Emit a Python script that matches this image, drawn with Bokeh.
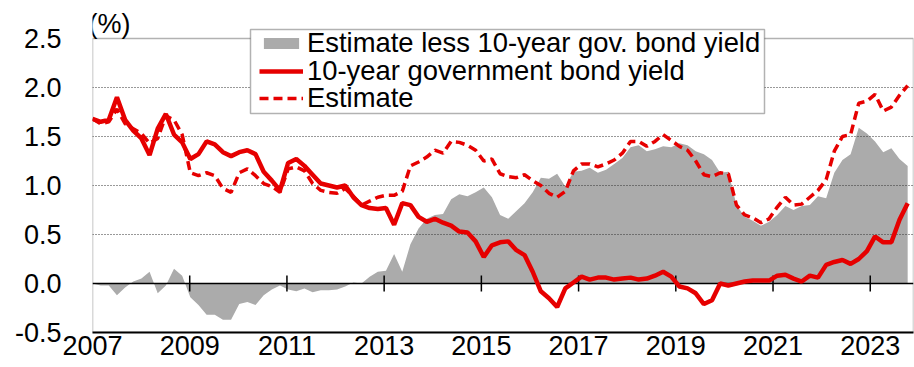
import numpy as np
from bokeh.plotting import figure
from bokeh.models import (Range1d, FixedTicker, PrintfTickFormatter, Span,
                          Legend, LegendItem, Label, ColumnDataSource,
                          BoxAnnotation)
from bokeh.embed import file_html
from bokeh.resources import INLINE

# ---------------- data (roughly bimonthly) ----------------
start_year = 2007.0
end_year = 2023.77

yield_10y = [
    1.68, 1.65, 1.67, 1.90, 1.67, 1.56, 1.48, 1.31, 1.58, 1.73,
    1.52, 1.44, 1.27, 1.32, 1.45, 1.42, 1.34, 1.30, 1.34, 1.36,
    1.32, 1.14, 1.05, 0.95, 1.23, 1.27, 1.20, 1.11, 1.02, 1.00,
    0.98, 1.00, 0.88, 0.80, 0.77, 0.76, 0.77, 0.60, 0.82, 0.80,
    0.68, 0.63, 0.66, 0.62, 0.59, 0.53, 0.52, 0.43, 0.27, 0.39,
    0.42, 0.43, 0.34, 0.29, 0.12, -0.08, -0.15, -0.24, -0.05, 0.01,
    0.07, 0.04, 0.06, 0.06, 0.04, 0.05, 0.06, 0.04, 0.05, 0.08,
    0.12, 0.07, -0.03, -0.05, -0.10, -0.21, -0.17, 0.00, -0.02, 0.00,
    0.02, 0.03, 0.03, 0.03, 0.08, 0.09, 0.05, 0.02, 0.08, 0.06,
    0.19, 0.22, 0.24, 0.20, 0.25, 0.33, 0.48, 0.42, 0.42, 0.65,
    0.82,
]

estimate = [
    1.68, 1.63, 1.65, 1.78, 1.63, 1.58, 1.53, 1.43, 1.48, 1.71,
    1.67, 1.52, 1.13, 1.10, 1.13, 1.10, 0.97, 0.93, 1.13, 1.17,
    1.10, 1.02, 0.99, 0.93, 1.17, 1.19, 1.15, 1.02, 0.95, 0.93,
    0.92, 0.97, 0.89, 0.80, 0.84, 0.88, 0.90, 0.90, 0.94, 1.20,
    1.24, 1.29, 1.36, 1.33, 1.45, 1.44, 1.41, 1.36, 1.25, 1.27,
    1.12, 1.09, 1.08, 1.11, 1.05, 1.00, 0.92, 0.88, 0.94, 1.15,
    1.22, 1.22, 1.19, 1.22, 1.26, 1.33, 1.45, 1.45, 1.40, 1.45,
    1.52, 1.46, 1.40, 1.36, 1.25, 1.11, 1.09, 1.13, 1.12, 0.80,
    0.70, 0.67, 0.62, 0.66, 0.78, 0.88, 0.80, 0.81, 0.88, 0.95,
    1.06, 1.35, 1.50, 1.52, 1.84, 1.86, 1.93, 1.76, 1.80, 1.92,
    2.02,
]

x_ticks = [2007, 2009, 2011, 2013, 2015, 2017, 2019, 2021, 2023]
y_ticks = [-0.5, 0.0, 0.5, 1.0, 1.5, 2.0, 2.5]
grid_ticks = [0.5, 1.0, 1.5, 2.0]

label_area = "Estimate less 10-year gov. bond yield"
label_yield = "10-year government bond yield"
label_est = "Estimate"
unit_label = "(%)"

# ---------------- build ----------------
x = np.linspace(start_year, end_year, len(yield_10y))
diff = np.array(estimate) - np.array(yield_10y)
src = ColumnDataSource(dict(x=x, y=yield_10y, e=estimate, d=diff))

FONT = "Liberation Sans"
FS = "27px"
RED = "#E60000"
GREY = "#ABABAB"

W, H = 914, 367
LEFT, RIGHT_B, BOTTOM_B = 92, 1, 35
frame_h = H - BOTTOM_B              # frame runs from the top of the figure
frame_w = W - LEFT - RIGHT_B
px_per_unit = 98.0
y_min, y_max = y_ticks[0], y_ticks[-1]
y_top = y_min + frame_h / px_per_unit   # head-room above 2.5 for legend / unit label
x_end = 2023.89
px_per_year = frame_w / (x_end - start_year)


def sx_to_data(px):      # frame pixel (from frame left) -> year
    return start_year + px / px_per_year


def sy_to_data(py):      # frame pixel (from frame top) -> value
    return y_top - py / px_per_unit


p = figure(width=W, height=H, output_backend="svg", toolbar_location=None,
           x_range=Range1d(start_year, x_end), y_range=Range1d(y_min, y_top),
           min_border_left=LEFT, min_border_right=RIGHT_B, min_border_top=0,
           min_border_bottom=BOTTOM_B)
p.outline_line_color = None
p.background_fill_color = "white"
p.border_fill_color = "white"

# axes
p.xaxis.ticker = FixedTicker(ticks=x_ticks)
p.xaxis.formatter = PrintfTickFormatter(format="%d")
p.xaxis.axis_line_color = "black"
p.xaxis.axis_line_width = 2
p.xaxis.major_tick_line_color = None
p.xaxis.minor_tick_line_color = None
p.xaxis.major_tick_out = 0
p.xaxis.major_tick_in = 0
p.xaxis.minor_tick_out = 0
p.xaxis.major_label_standoff = 3
p.xaxis.major_label_text_font = FONT
p.xaxis.major_label_text_font_size = FS
p.xaxis.major_label_text_color = "black"

p.yaxis.ticker = FixedTicker(ticks=y_ticks)
p.yaxis.formatter = PrintfTickFormatter(format="%.1f")
p.yaxis.axis_line_color = None
p.yaxis.major_tick_line_color = None
p.yaxis.minor_tick_line_color = None
p.yaxis.major_tick_out = 0
p.yaxis.minor_tick_out = 0
p.yaxis.major_label_standoff = 31
p.yaxis.major_label_text_font = FONT
p.yaxis.major_label_text_font_size = FS
p.yaxis.major_label_text_color = "black"

p.xgrid.grid_line_color = None
p.ygrid.ticker = FixedTicker(ticks=grid_ticks)
p.ygrid.grid_line_color = "#333333"
p.ygrid.grid_line_width = 1
p.ygrid.grid_line_dash = "1 2"
p.ygrid.level = "underlay"

# glyphs
r_area = p.varea(x="x", y1=0, y2="d", source=src, fill_color=GREY, level="image")
p.add_layout(Span(location=0, dimension="width", line_color="black",
                  line_width=1.5, level="underlay"))
tick_src = ColumnDataSource(dict(x=x_ticks[1:]))
p.segment(x0="x", x1="x", y0=-0.082, y1=0.082, source=tick_src,
          line_color="black", line_width=1.5)
r_est = p.line(x="x", y="e", source=src, line_color=RED, line_width=3.5,
               line_dash="9 5")
r_yld = p.line(x="x", y="y", source=src, line_color=RED, line_width=4.5)

# plot box (top edge at 2.5, left edge at 2007)
p.add_layout(BoxAnnotation(left=start_year, right=x_end, bottom=y_min, top=y_max,
                           fill_color=None, line_color="black", line_width=1.5,
                           level="underlay"))

# legend: white framed box + one row per series (tight row spacing)
LEG_L, LEG_R, LEG_T, LEG_B = 158, 672, 29, 113      # frame pixels
p.add_layout(BoxAnnotation(left=sx_to_data(LEG_L), right=sx_to_data(LEG_R),
                           top=sy_to_data(LEG_T), bottom=sy_to_data(LEG_B),
                           fill_color="white", fill_alpha=1.0,
                           line_color="black", line_width=1.5))
rows = [(label_area, r_area), (label_yield, r_yld), (label_est, r_est)]
row_centers = [43, 71, 98]          # frame pixels from top
for (lab, rend), cy in zip(rows, row_centers):
    lg = Legend(items=[LegendItem(label=lab, renderers=[rend])],
                location=(LEG_L + 9, frame_h - cy - 16), orientation="vertical",
                label_text_font=FONT, label_text_font_size="27.4px",
                label_text_color="black", glyph_width=44, glyph_height=14,
                label_height=20, label_standoff=4, spacing=0, padding=0,
                margin=0, border_line_color=None, background_fill_alpha=0.0)
    p.add_layout(lg)

p.add_layout(Label(x=start_year, y=y_max, x_offset=-4, y_offset=0, text=unit_label,
                   text_baseline="bottom", text_align="left",
                   text_font=FONT, text_font_size=FS, text_color="black"))

open("out.html", "w").write(file_html(p, INLINE))
